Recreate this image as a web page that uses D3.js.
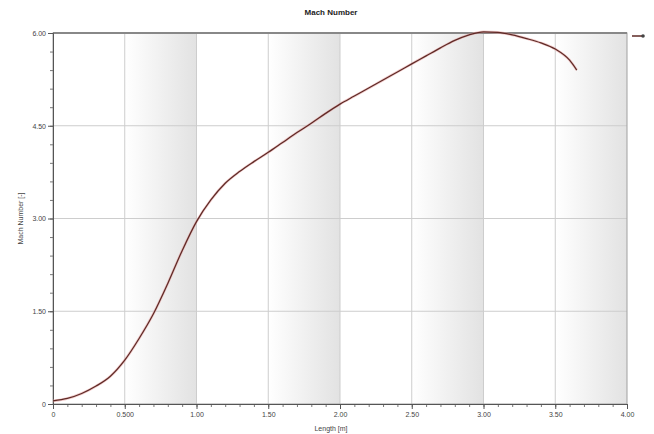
<!DOCTYPE html>
<html>
<head>
<meta charset="utf-8">
<script src="https://cdn.jsdelivr.net/npm/d3@7"></script>
<style>
  html, body { margin: 0; padding: 0; background: #fff; }
  svg { display: block; font-family: "Liberation Sans", Arial, sans-serif; }
</style>
</head>
<body>
<svg id="chart" width="654" height="434"></svg>
<script>
// Mach number along the nozzle length
const lengthM = [0.0, 0.1, 0.2, 0.3, 0.4, 0.5, 0.6, 0.7, 0.8, 0.9,
                 1.0, 1.1, 1.2, 1.3, 1.4, 1.5, 1.6, 1.7, 1.8, 1.9,
                 2.0, 2.1, 2.2, 2.3, 2.4, 2.5, 2.6, 2.7, 2.8, 2.9,
                 3.0, 3.1, 3.2, 3.3, 3.4, 3.5, 3.6, 3.65];
const machNumber = [0.05, 0.09, 0.17, 0.29, 0.45, 0.71, 1.06, 1.46, 1.95, 2.48,
                    2.95, 3.30, 3.57, 3.76, 3.92, 4.07, 4.23, 4.39, 4.54, 4.70,
                    4.85, 4.98, 5.11, 5.24, 5.37, 5.50, 5.63, 5.76, 5.88, 5.97,
                    6.02, 6.01, 5.97, 5.91, 5.84, 5.74, 5.56, 5.40];
const xTicks = [0, 0.5, 1.0, 1.5, 2.0, 2.5, 3.0, 3.5, 4.0];
const xTickLabels = ["0", "0.500", "1.00", "1.50", "2.00", "2.50", "3.00", "3.50", "4.00"];
const yTicks = [0, 1.5, 3.0, 4.5, 6.0];
const yTickLabels = ["0", "1.50", "3.00", "4.50", "6.00"];
const bandStarts = [0.5, 1.5, 2.5, 3.5];

const svg = d3.select("#chart");
const plotL = 53, plotR = 627, plotT = 33, plotB = 404;

const x = d3.scaleLinear().domain([0, 4]).range([plotL, plotR]);
const y = d3.scaleLinear().domain([0, 6]).range([plotB, plotT]);

// gradient used by the alternating vertical bands
const defs = svg.append("defs");
const grad = defs.append("linearGradient").attr("id", "band").attr("x1", "0").attr("x2", "1").attr("y1", "0").attr("y2", "0");
grad.append("stop").attr("offset", "0%").attr("stop-color", "#ffffff");
grad.append("stop").attr("offset", "100%").attr("stop-color", "#e2e2e2");

svg.selectAll("rect.band").data(bandStarts).enter().append("rect")
  .attr("class", "band")
  .attr("x", d => x(d)).attr("y", plotT)
  .attr("width", d => x(d + 0.5) - x(d)).attr("height", plotB - plotT)
  .attr("fill", "url(#band)");

// grid
svg.selectAll("line.vgrid").data(xTicks.slice(1, -1)).enter().append("line")
  .attr("x1", d => x(d)).attr("x2", d => x(d)).attr("y1", plotT).attr("y2", plotB)
  .attr("stroke", "#cdcdcd").attr("stroke-width", 1);
svg.selectAll("line.hgrid").data(yTicks.slice(1, -1)).enter().append("line")
  .attr("x1", plotL).attr("x2", plotR).attr("y1", d => y(d)).attr("y2", d => y(d))
  .attr("stroke", "#cdcdcd").attr("stroke-width", 1);

// frame
svg.append("rect").attr("x", plotL).attr("y", plotT).attr("width", plotR - plotL).attr("height", plotB - plotT)
  .attr("fill", "none").attr("stroke", "#a0a0a0").attr("stroke-width", 1);
svg.append("line").attr("x1", plotL).attr("x2", plotR).attr("y1", plotT).attr("y2", plotT)
  .attr("stroke", "#888").attr("stroke-width", 2);

// axes with minor ticks
const xMinor = d3.range(0, 4.0001, 0.1);
const yMinor = d3.range(0, 6.0001, 0.3);
svg.append("g").attr("transform", `translate(0,${plotB})`)
  .call(d3.axisBottom(x).tickValues(xMinor).tickSize(3).tickFormat(""))
  .call(g => g.selectAll("line, path").attr("stroke", "#777"));
svg.append("g").attr("transform", `translate(0,${plotB})`)
  .call(d3.axisBottom(x).tickValues(xTicks).tickSize(5).tickPadding(3)
        .tickFormat((d, i) => xTickLabels[i]))
  .call(g => g.select(".domain").attr("stroke", "#555"))
  .call(g => g.selectAll("line").attr("stroke", "#555"))
  .call(g => g.selectAll("text").attr("font-size", 7).attr("fill", "#444"));

svg.append("g").attr("transform", `translate(${plotL},0)`)
  .call(d3.axisLeft(y).tickValues(yMinor).tickSize(3).tickFormat(""))
  .call(g => g.selectAll("line, path").attr("stroke", "#777"));
svg.append("g").attr("transform", `translate(${plotL},0)`)
  .call(d3.axisLeft(y).tickValues(yTicks).tickSize(5).tickPadding(2)
        .tickFormat((d, i) => yTickLabels[i]))
  .call(g => g.select(".domain").attr("stroke", "#555"))
  .call(g => g.selectAll("line").attr("stroke", "#555"))
  .call(g => g.selectAll("text").attr("font-size", 7).attr("fill", "#444"));

// curve: soft red halo under a dark brown stroke
const pts = lengthM.map((v, i) => [v, machNumber[i]]);
const line = d3.line().x(d => x(d[0])).y(d => y(d[1])).curve(d3.curveMonotoneX);
svg.append("path").datum(pts).attr("d", line)
  .attr("fill", "none").attr("stroke", "#e8a0a0").attr("stroke-width", 2.6).attr("stroke-opacity", 0.55);
svg.append("path").datum(pts).attr("d", line)
  .attr("fill", "none").attr("stroke", "#5e2a26").attr("stroke-width", 1.25);

// legend
svg.append("line").attr("x1", 632).attr("x2", 642).attr("y1", 36).attr("y2", 36)
  .attr("stroke", "#5e2a26").attr("stroke-width", 1.5);
svg.append("circle").attr("cx", 643).attr("cy", 36).attr("r", 1.8).attr("fill", "#444");

// titles
svg.append("text").attr("x", 331).attr("y", 15).attr("text-anchor", "middle")
  .attr("font-size", 8).attr("font-weight", "bold").attr("fill", "#222").text("Mach Number");
svg.append("text").attr("x", 331).attr("y", 431).attr("text-anchor", "middle")
  .attr("font-size", 7).attr("fill", "#444").text("Length [m]");
svg.append("text").attr("transform", `translate(23,${(plotT + plotB) / 2}) rotate(-90)`)
  .attr("text-anchor", "middle").attr("font-size", 7).attr("fill", "#444").text("Mach Number [-]");
</script>
</body>
</html>
